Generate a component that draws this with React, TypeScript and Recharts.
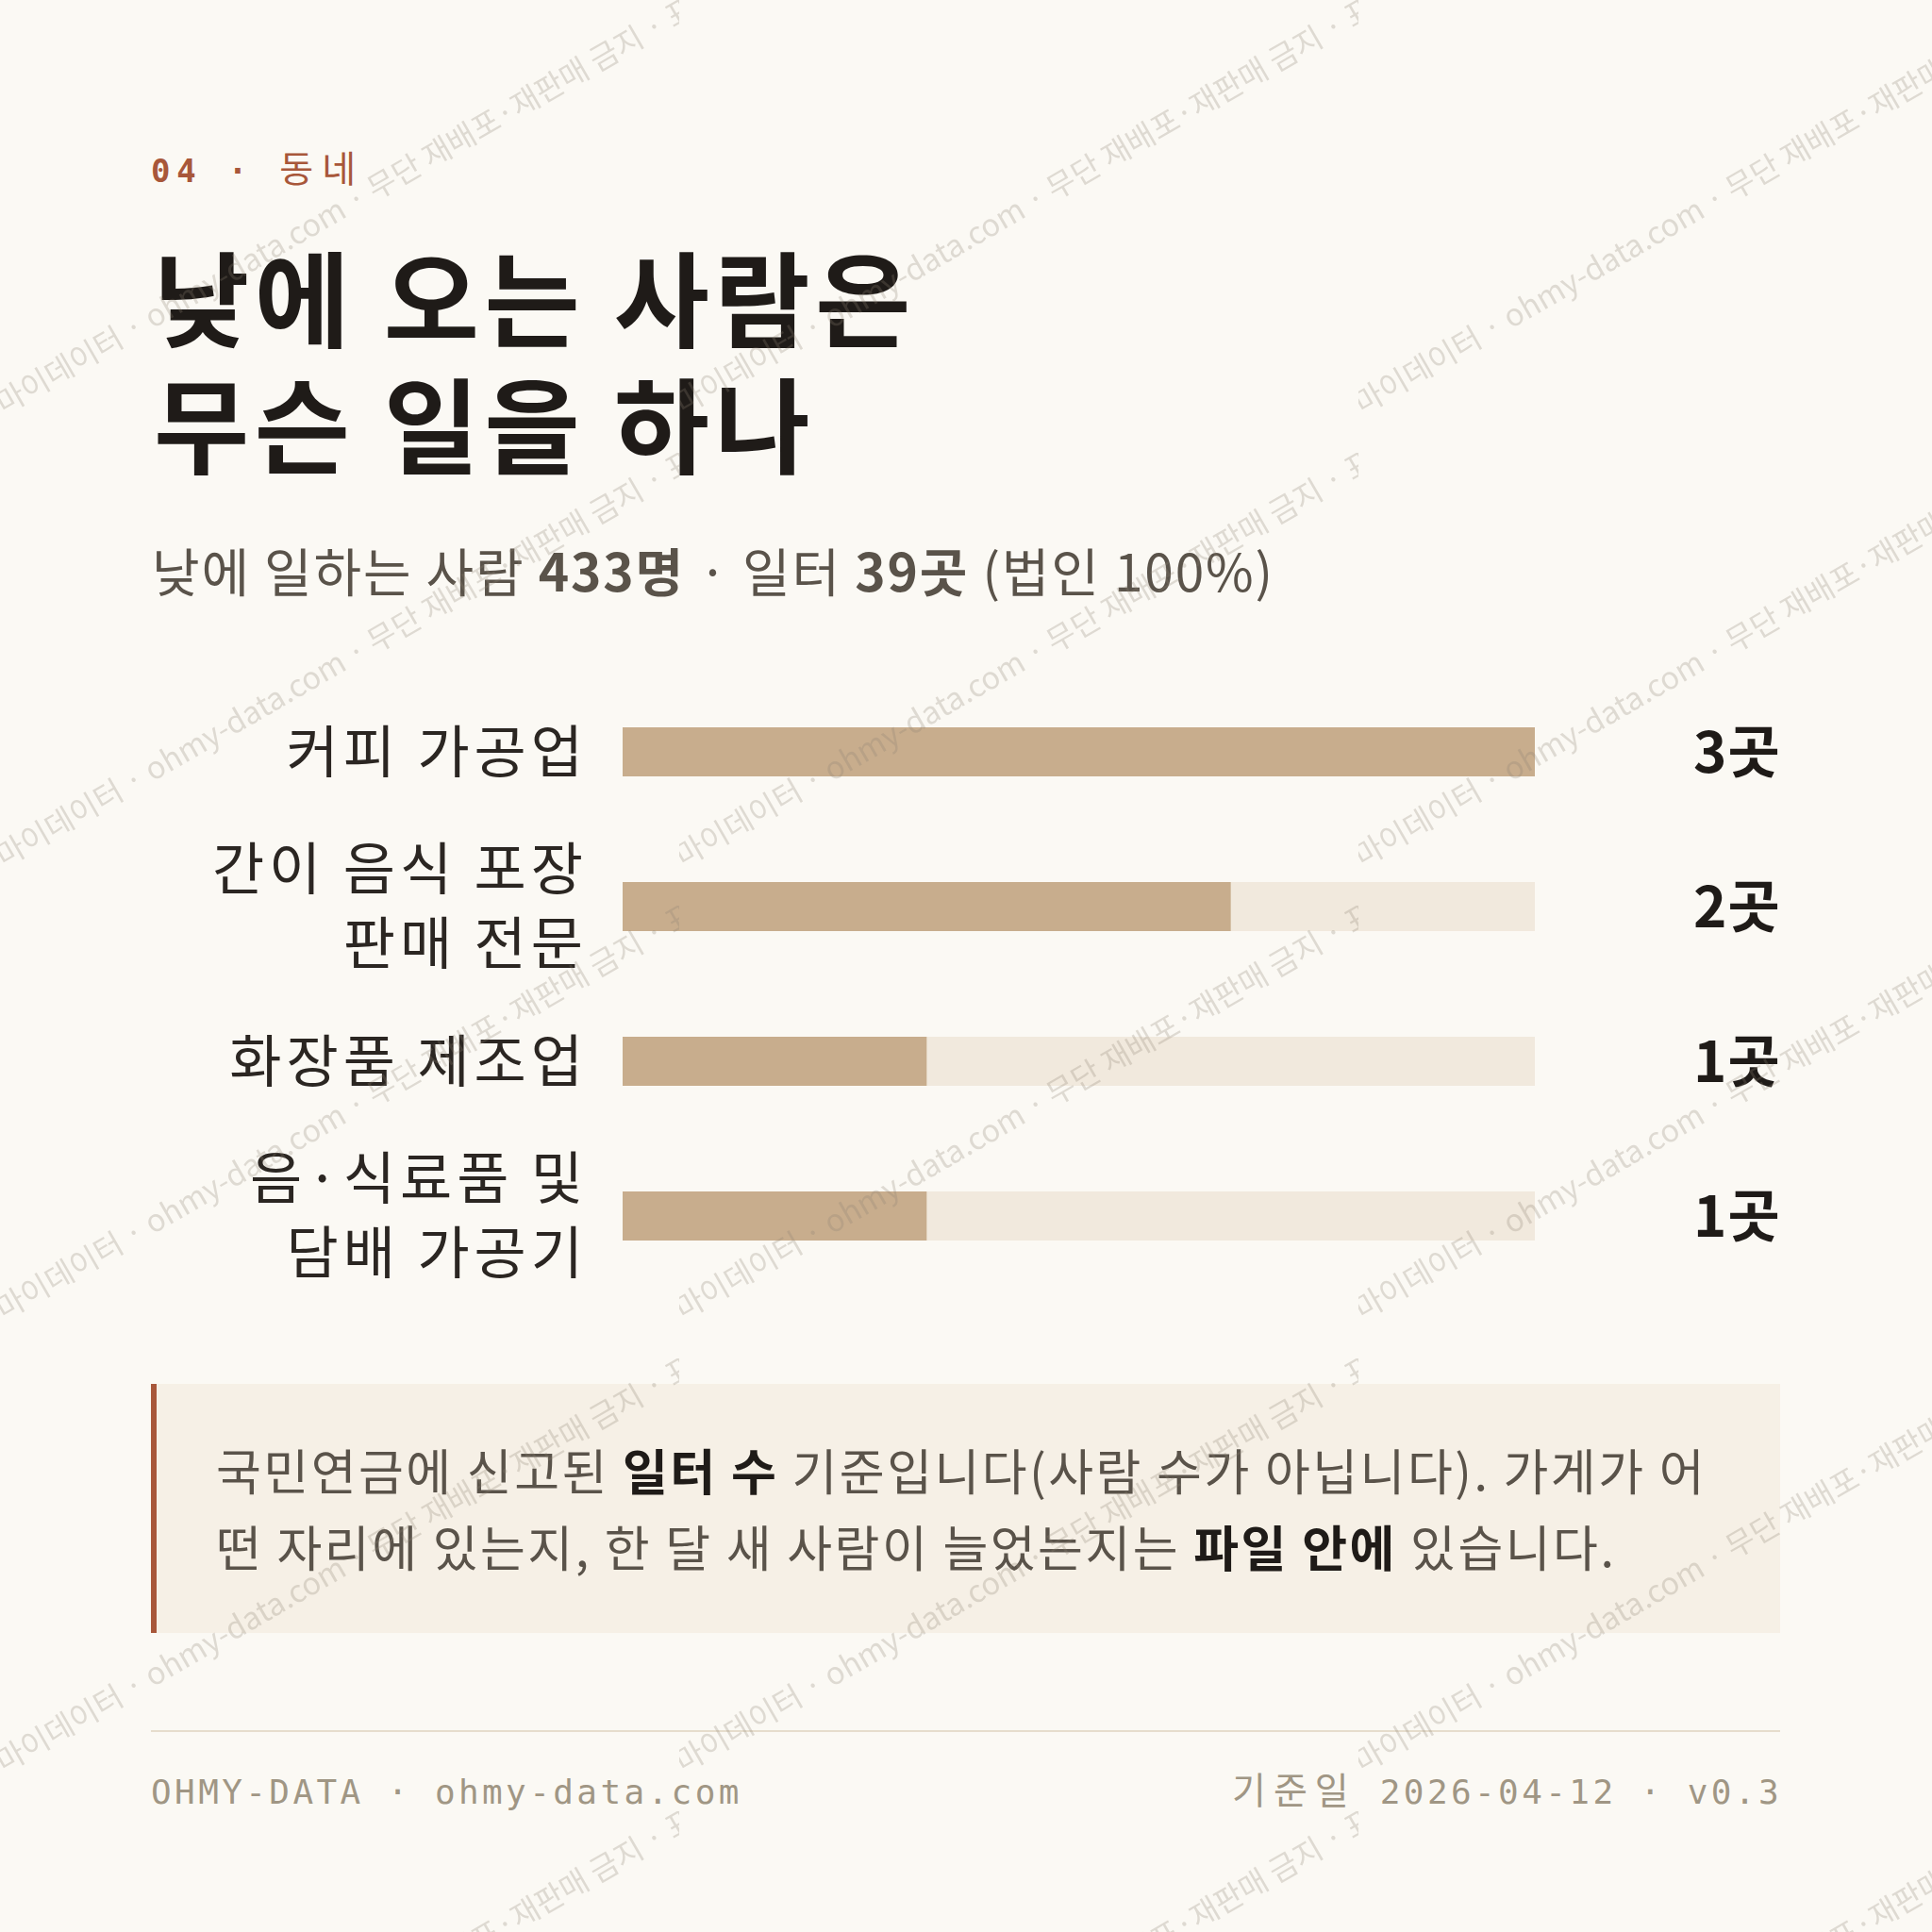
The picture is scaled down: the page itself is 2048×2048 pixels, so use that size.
import { BarChart, Bar, XAxis, YAxis } from 'recharts'

// 업종별 일터 수 (낮 인구 기준)
const categories = ['커피 가공업', '간이 음식 포장\n판매 전문', '화장품 제조업', '음·식료품 및\n담배 가공기']
const counts = [3, 2, 1, 1]
const unit = '곳'

const rows = categories.map((name, i) => ({ name, count: counts[i] }))

const BG = '#fbf9f4'
const BAR = '#c8ad8d'
const TRACK = '#f1e9dd'
const ACCENT = '#a8573a'
const INK = '#1f1b18'
const INK2 = '#2b2622'
const SUB = '#5a534a'
const MUTED = '#a09684'
const KR = '"Noto Sans CJK KR", "Noto Sans", sans-serif'
const MONO = '"DejaVu Sans Mono", "Noto Sans CJK KR", monospace'
const WATERMARK = '마이데이터 · ohmy-data.com · 무단 재배포·재판매 금지 · 표본'

const CategoryTick = ({ x, y, payload }: { x?: number; y?: number; payload?: { value: string } }) => {
  const lines = String(payload?.value ?? '').split('\n')
  const lh = 79
  const top = (y ?? 0) - ((lines.length - 1) * lh) / 2
  return (
    <text textAnchor="end" fontSize={60} letterSpacing={5} fill={INK2} fontFamily={KR}>
      {lines.map((l, i) => (
        <tspan key={i} x={(x ?? 0) + 5} y={top + i * lh} dy="0.36em">
          {l}
        </tspan>
      ))}
    </text>
  )
}

const ValueTick = ({ x, y, index }: { x?: number; y?: number; index?: number }) => (
  <text x={x} y={y} dy="0.36em" textAnchor="start" fontSize={60} fontWeight={700} letterSpacing={1} fill={INK} fontFamily={KR}>
    {`${counts[index ?? 0]}${unit}`}
  </text>
)

export default function App() {
  return (
    <div style={{ position: 'absolute', left: 0, top: 0, width: 2048, height: 2048, background: BG, overflow: 'hidden' }}>
      <svg width={2048} height={2048} style={{ position: 'absolute', left: 0, top: 0 }}>
        <text x={160} y={193} fontFamily={MONO} fontSize={34} fontWeight={700} letterSpacing={6.8} fill={ACCENT}>
          04 · <tspan fontWeight={400} fontSize={39} letterSpacing={9}>동네</tspan>
        </text>

        <g fontFamily={KR} fontWeight={700} fontSize={110} letterSpacing={5.5} fill={INK}>
          <text x={163} y={360}>낮에 오는 사람은</text>
          <text x={163} y={494}>무슨 일을 하나</text>
        </g>

        <text x={161} y={627} fontFamily={KR} fontSize={55} letterSpacing={1.85} fill={SUB}>
          낮에 일하는 사람 <tspan fontWeight={700}>433명</tspan> · 일터 <tspan fontWeight={700}>39곳</tspan> (법인 100%)
        </text>

        <rect x={160} y={1467} width={1727} height={264} fill="#f6f0e6" />
        <rect x={160} y={1467} width={6} height={264} fill={ACCENT} />
        <g fontFamily={KR} fontSize={52} letterSpacing={2.5} fill={SUB}>
          <text x={229} y={1580}>
            국민연금에 신고된 <tspan fontWeight={700} fill={INK}>일터 수</tspan> 기준입니다(사람 수가 아닙니다). 가게가 어
          </text>
          <text x={229} y={1661}>
            떤 자리에 있는지, 한 달 새 사람이 늘었는지는 <tspan fontWeight={700} fill={INK}>파일 안에</tspan> 있습니다.
          </text>
        </g>

        <rect x={160} y={1834} width={1727} height={2} fill="#e6ddcd" />
        <g fontFamily={MONO} fontSize={36} letterSpacing={3.4} fill={MUTED}>
          <text x={160} y={1912}>OHMY-DATA · ohmy-data.com</text>
          <text x={1889} y={1912} textAnchor="end">
            <tspan fontSize={39} letterSpacing={8}>기준일</tspan> 2026-04-12 · v0.3
          </text>
        </g>
      </svg>

      <div style={{ position: 'absolute', left: 160, top: 715 }}>
        <BarChart width={1727} height={656} layout="vertical" data={rows} margin={{ top: 0, right: 0, bottom: 0, left: 0 }}>
          <XAxis type="number" hide domain={[0, 'dataMax']} />
          <YAxis
            yAxisId="l"
            type="category"
            dataKey="name"
            width={500}
            axisLine={false}
            tickLine={false}
            tickSize={0}
            tickMargin={42}
            tick={<CategoryTick />}
          />
          <YAxis
            yAxisId="r"
            orientation="right"
            type="category"
            dataKey="name"
            width={260}
            axisLine={false}
            tickLine={false}
            tickSize={0}
            tickMargin={168}
            tick={<ValueTick />}
          />
          <Bar yAxisId="l" dataKey="count" fill={BAR} barSize={52} background={{ fill: TRACK }} isAnimationActive={false} />
        </BarChart>
      </div>

      <svg width={2048} height={2048} style={{ position: 'absolute', left: 0, top: 0, pointerEvents: 'none' }}>
        <defs>
          <pattern id="wm" width={720} height={480} patternUnits="userSpaceOnUse">
            <text
              x={4}
              y={440}
              transform="rotate(-30 4 440)"
              fontFamily={KR}
              fontSize={32.5}
              fill="#8a7e6e"
              fillOpacity={0.26}
            >
              {WATERMARK}
            </text>
          </pattern>
        </defs>
        <rect width={2048} height={2048} fill="url(#wm)" />
      </svg>
    </div>
  )
}
